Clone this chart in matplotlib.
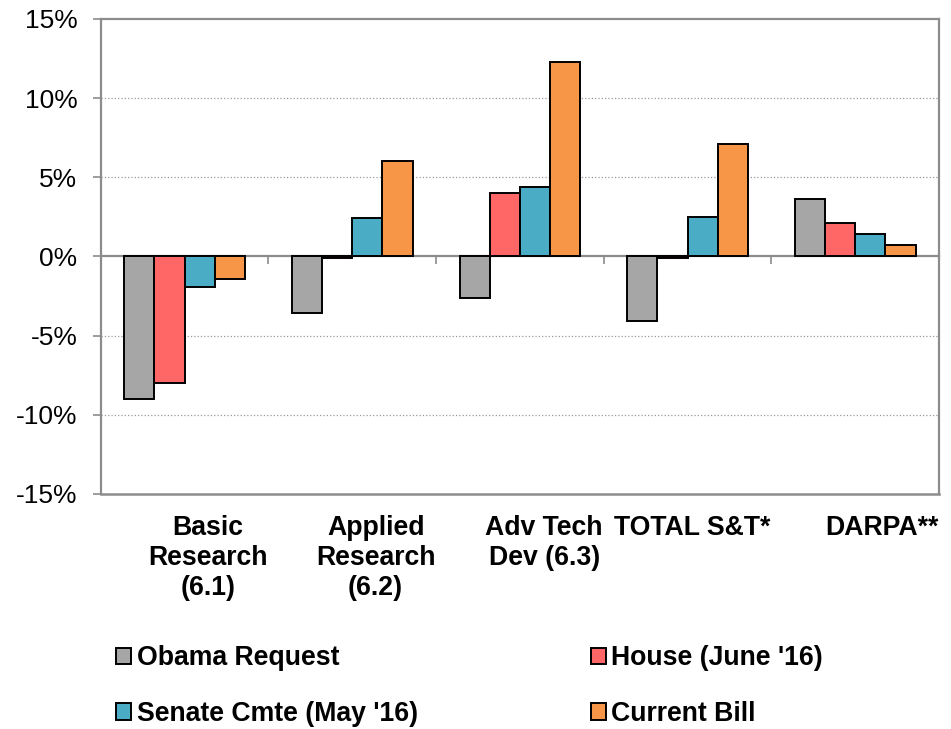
import numpy as np
import matplotlib
matplotlib.use("Agg")
import matplotlib.pyplot as plt
from matplotlib.patches import Patch
from matplotlib.ticker import FuncFormatter

plt.rcParams["font.family"] = ["Liberation Sans", "DejaVu Sans"]

# dados (variação %)
categorias = ["Basic\nResearch\n(6.1)", "Applied\nResearch\n(6.2)", "Adv Tech\nDev (6.3)",
              "TOTAL S&T*", "DARPA**"]
series = ["Obama Request", "House (June '16)", "Senate Cmte (May '16)", "Current Bill"]
obama = [-9.0, -3.6, -2.6, -4.1, 3.6]
house = [-8.0, -0.1, 4.0, -0.1, 2.1]
senado = [-1.9, 2.4, 4.4, 2.5, 1.4]
atual = [-1.4, 6.0, 12.3, 7.1, 0.7]
valores = [obama, house, senado, atual]
cores = ["#A6A6A6", "#FF6666", "#4BACC6", "#F79646"]
yticks = [-15, -10, -5, 0, 5, 10, 15]

cinza = "#8C8C8C"
fig = plt.figure(figsize=(9.51, 7.29), dpi=100)
ax = fig.add_axes([0.1059, 0.3224, 0.8815, 0.6516])

x = np.arange(len(categorias))
largura = 0.18
for k, (nome, vals, cor) in enumerate(zip(series, valores, cores)):
    ax.bar(x + (k - 1.5) * largura, vals, width=largura, color=cor,
           edgecolor="black", linewidth=1.4, label=nome, zorder=3)

ax.set_xlim(-0.5, len(categorias) - 0.5)
ax.set_ylim(-15, 15)
ax.set_yticks(yticks)
ax.yaxis.set_major_formatter(FuncFormatter(lambda v, p: f"{v:.0f}%"))
ax.tick_params(axis="y", labelsize=19, length=5.8, width=1.2, color=cinza, pad=11)
for v in yticks[1:-1]:
    if v != 0:
        ax.axhline(v, color="#999999", linestyle=":", linewidth=0.9, zorder=1)

# eixo x na linha do zero, com marcas entre categorias
ax.spines["bottom"].set_position(("data", 0))
ax.set_xticks(np.arange(len(categorias) + 1) - 0.5)
ax.set_xticklabels([])
ax.tick_params(axis="x", length=5.8, width=1.2, color=cinza, direction="out")
for lado in ["left", "right", "top", "bottom"]:
    ax.spines[lado].set_color(cinza)
    ax.spines[lado].set_linewidth(1.6)
ax.axhline(-15, color=cinza, linewidth=1.8, clip_on=False, zorder=2)
ax.spines["bottom"].set_zorder(2)

desloc = [0.14, 0.14, 0.145, 0.03, 0.16]
trans = matplotlib.transforms.blended_transform_factory(ax.transData, ax.transAxes)
for i, (cat, d) in enumerate(zip(categorias, desloc)):
    ax.text(i + d, -0.045, cat, transform=trans, ha="center", va="top",
            fontsize=19.2, fontweight="bold", linespacing=1.2)

# legenda em duas colunas, preenchida por linha como no original
ordem = [0, 2, 1, 3]
handles = [Patch(facecolor=cores[i], edgecolor="black", linewidth=1.4) for i in ordem]
fig.legend(handles, [series[i] for i in ordem], loc="upper left",
           bbox_to_anchor=(0.1225, 0.115), ncol=2, frameon=False,
           prop={"size": 19.2, "weight": "bold"},
           handlelength=0.56, handleheight=0.56, handletextpad=0.2,
           columnspacing=6.5, labelspacing=1.12, borderaxespad=0, borderpad=0)

fig.savefig("out.png", dpi=100)
